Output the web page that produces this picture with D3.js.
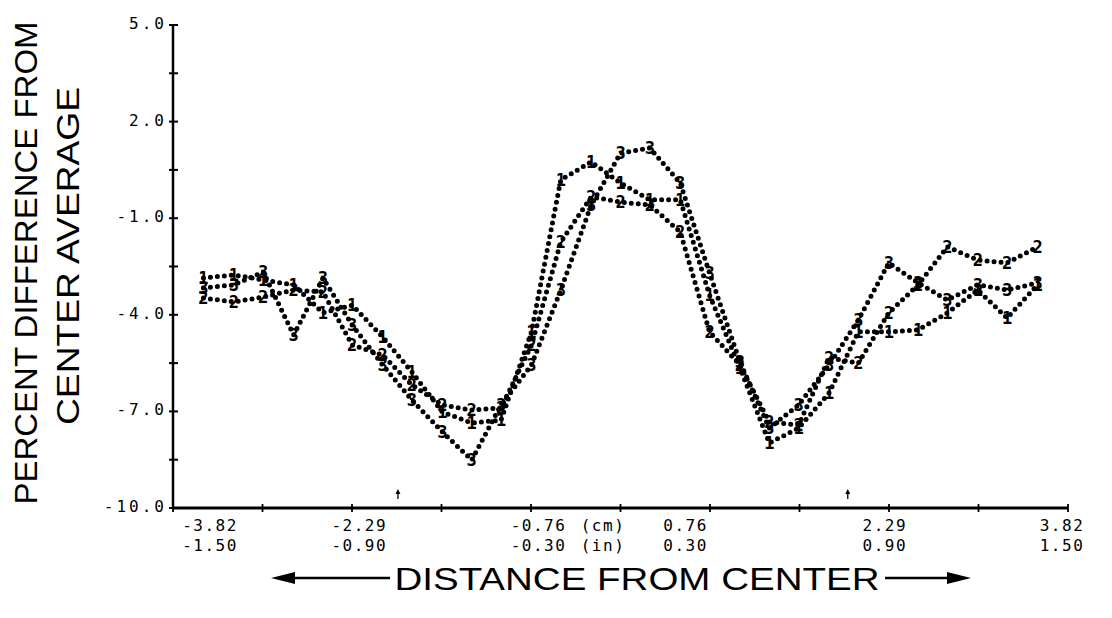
<!DOCTYPE html>
<html>
<head>
<meta charset="utf-8">
<script src="https://cdn.jsdelivr.net/npm/d3@7"></script>
<style>
  body { margin: 0; background: #fff; }
  svg { display: block; }
</style>
</head>
<body>
<div id="chart"></div>
<script>
// sample positions, every 0.1 in (given in cm)
var distance = [-3.56, -3.30, -3.05, -2.79, -2.54, -2.29, -2.03, -1.78, -1.52, -1.27, -1.02, -0.76, -0.51, -0.25, 0.00,
                0.25, 0.51, 0.76, 1.02, 1.27, 1.52, 1.78, 2.03, 2.29, 2.54, 2.79, 3.05, 3.30, 3.56];

// percent difference from center average, one list per run
var run1 = [-2.86, -2.76, -2.92, -3.07, -3.94, -3.70, -4.69, -5.78, -7.02, -7.36, -7.27, -4.53, 0.19, 0.75, 0.09,
            -0.43, -0.43, -3.39, -5.65, -7.98, -7.52, -6.43, -4.53, -4.53, -4.47, -3.94, -3.23, -4.10, -3.07];
var run2 = [-3.48, -3.60, -3.45, -3.23, -3.29, -4.94, -5.25, -6.18, -6.80, -6.96, -6.89, -4.94, -1.74, -0.34, -0.50,
            -0.59, -1.43, -4.53, -5.56, -7.33, -7.42, -5.34, -5.50, -3.94, -3.07, -1.89, -2.30, -2.39, -1.89];
var run3 = [-3.17, -3.07, -2.67, -4.63, -2.86, -4.32, -5.56, -6.65, -7.64, -8.51, -6.80, -5.56, -3.23, -0.59, 1.02,
            1.18, 0.09, -2.70, -5.47, -7.52, -6.80, -5.56, -4.16, -2.39, -3.01, -3.54, -3.07, -3.23, -3.01];
var runNames = ["1", "2", "3"];

// axis ticks and labels
var yMajor = [5, 2, -1, -4, -7, -10];
var yLabels = ["5.0", "2.0", "-1.0", "-4.0", "-7.0", "-10.0"];
var yMinor = [3.5, 0.5, -2.5, -5.5, -8.5];
var xTicks = [-3.82, -3.056, -2.292, -1.528, -0.764, 0, 0.764, 1.528, 2.292, 3.056, 3.82];
var xLabelAt = [-3.82, -2.29, -0.76, 0.76, 2.29, 3.82];
var cmLabels = ["-3.82", "-2.29", "-0.76", "0.76", "2.29", "3.82"];
var inLabels = ["-1.50", "-0.90", "-0.30", "0.30", "0.90", "1.50"];
var xLabelShift = [37, 7, 7, -24, -4, -6];
var arrowMarks = [-1.90, 1.94];

var width = 1112, height = 618;

//Make an SVG Container
var svg = d3.select("#chart").append("svg")
            .attr("width", width)
            .attr("height", height);

var x = d3.scaleLinear().domain([-3.82, 3.82]).range([173, 1068]);
var y = d3.scaleLinear().domain([-10, 5]).range([508, 25]);

var mono = "'DejaVu Sans Mono', 'Liberation Mono', monospace";

// y axis
svg.append("line")
   .attr("x1", x(-3.82)).attr("x2", x(-3.82))
   .attr("y1", y(5)).attr("y2", y(-10))
   .attr("stroke", "#000").attr("stroke-width", 2.5);

svg.append("g").selectAll("line")
   .data(yMajor.concat(yMinor))
   .enter().append("line")
   .attr("x1", x(-3.82) - 4).attr("x2", x(-3.82) + 5)
   .attr("y1", d => y(d)).attr("y2", d => y(d))
   .attr("stroke", "#000").attr("stroke-width", 2);

svg.append("g").selectAll("text")
   .data(yMajor)
   .enter().append("text")
   .attr("x", x(-3.82) - 6)
   .attr("y", d => y(d) + 4)
   .attr("text-anchor", "end")
   .attr("font-family", mono)
   .attr("font-size", 16)
   .attr("letter-spacing", 3)
   .text((d, i) => yLabels[i]);

// x axis
svg.append("line")
   .attr("x1", x(-3.82)).attr("x2", x(3.82))
   .attr("y1", y(-10)).attr("y2", y(-10))
   .attr("stroke", "#000").attr("stroke-width", 3);

svg.append("g").selectAll("line")
   .data(xTicks)
   .enter().append("line")
   .attr("x1", d => x(d)).attr("x2", d => x(d))
   .attr("y1", y(-10) - 4).attr("y2", y(-10) + 4)
   .attr("stroke", "#000").attr("stroke-width", 1.8);

svg.append("g").selectAll("text")
   .data(xLabelAt)
   .enter().append("text")
   .attr("x", (d, i) => x(d) + xLabelShift[i])
   .attr("y", 531)
   .attr("text-anchor", "middle")
   .attr("font-family", mono)
   .attr("font-size", 16)
   .attr("letter-spacing", 1.5)
   .text((d, i) => cmLabels[i]);

svg.append("g").selectAll("text")
   .data(xLabelAt)
   .enter().append("text")
   .attr("x", (d, i) => x(d) + xLabelShift[i])
   .attr("y", 551)
   .attr("text-anchor", "middle")
   .attr("font-family", mono)
   .attr("font-size", 16)
   .attr("letter-spacing", 1.5)
   .text((d, i) => inLabels[i]);

svg.append("text")
   .attr("x", 603).attr("y", 531)
   .attr("text-anchor", "middle")
   .attr("font-family", mono).attr("font-size", 16).attr("letter-spacing", 1.5)
   .text("(cm)");
svg.append("text")
   .attr("x", 603).attr("y", 551)
   .attr("text-anchor", "middle")
   .attr("font-family", mono).attr("font-size", 16).attr("letter-spacing", 1.5)
   .text("(in)");

// little up arrows above the x axis
var marks = svg.append("g").selectAll("g")
   .data(arrowMarks)
   .enter().append("g")
   .attr("transform", d => "translate(" + x(d) + "," + (y(-10) - 12) + ")");
marks.append("line")
   .attr("x1", 0).attr("x2", 0).attr("y1", -5).attr("y2", 3)
   .attr("stroke", "#000").attr("stroke-width", 1.3);
marks.append("path")
   .attr("d", "M0,-7 L-2.5,-2 L2.5,-2 Z")
   .attr("fill", "#000");

// the three runs, dotted lines with the run number at every sample
var line = d3.line()
             .x((d, i) => x(distance[i]))
             .y(d => y(d));

var runs = [run1, run2, run3];

svg.append("g")
   .selectAll("path")
   .data(runs)
   .enter()
   .append("path")
   .attr("d", line)
   .attr("fill", "none")
   .attr("stroke", "#000")
   .attr("stroke-width", 5)
   .attr("stroke-linecap", "round")
   .attr("stroke-dasharray", "0 7");

runs.forEach(function(run, k) {
    svg.append("g")
       .selectAll("text")
       .data(run)
       .enter()
       .append("text")
       .attr("x", (d, i) => x(distance[i]))
       .attr("y", d => y(d) + 6)
       .attr("text-anchor", "middle")
       .attr("font-family", mono)
       .attr("font-weight", "bold")
       .attr("font-size", 17)
       .text(runNames[k]);
});

// axis titles
var sans = "'Liberation Sans', Arial, sans-serif";

svg.append("text")
   .attr("transform", "translate(37,263) rotate(-90)")
   .attr("text-anchor", "middle")
   .attr("font-family", sans)
   .attr("font-size", 32)
   .attr("textLength", 483)
   .attr("lengthAdjust", "spacingAndGlyphs")
   .text("PERCENT DIFFERENCE FROM");

svg.append("text")
   .attr("transform", "translate(79,256) rotate(-90)")
   .attr("text-anchor", "middle")
   .attr("font-family", sans)
   .attr("font-size", 32)
   .attr("textLength", 338)
   .attr("lengthAdjust", "spacingAndGlyphs")
   .text("CENTER AVERAGE");

svg.append("text")
   .attr("x", 637).attr("y", 590)
   .attr("text-anchor", "middle")
   .attr("font-family", sans)
   .attr("font-size", 32)
   .attr("textLength", 485)
   .attr("lengthAdjust", "spacingAndGlyphs")
   .text("DISTANCE FROM CENTER");

// arrows beside the x title
svg.append("line")
   .attr("x1", 290).attr("x2", 390).attr("y1", 578).attr("y2", 578)
   .attr("stroke", "#000").attr("stroke-width", 2.5);
svg.append("path")
   .attr("d", "M271,578 L295,572 L295,584 Z")
   .attr("fill", "#000");
svg.append("line")
   .attr("x1", 885).attr("x2", 952).attr("y1", 578).attr("y2", 578)
   .attr("stroke", "#000").attr("stroke-width", 2.5);
svg.append("path")
   .attr("d", "M971,578 L947,572 L947,584 Z")
   .attr("fill", "#000");
</script>
</body>
</html>
